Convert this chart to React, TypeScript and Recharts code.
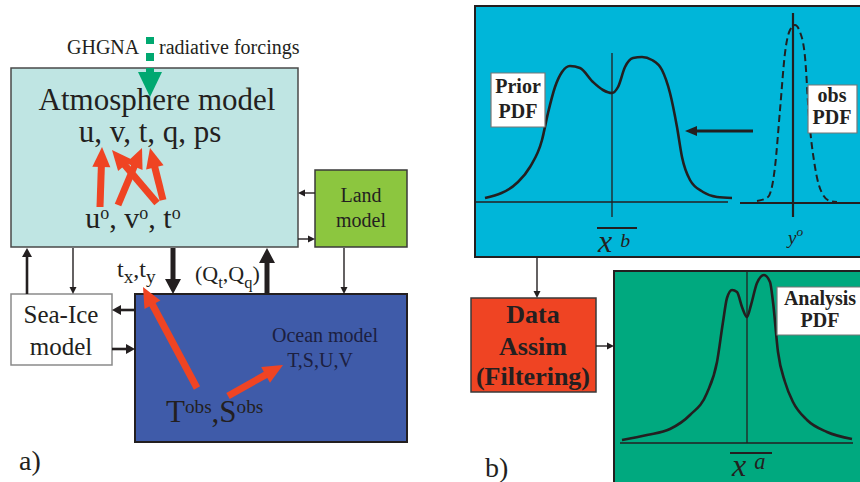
import React from 'react';
import {
  ComposedChart,
  XAxis,
  YAxis,
  ReferenceArea,
  ReferenceLine,
  Line,
  Scatter,
} from 'recharts';

const W = 860;
const H = 482;
const INK = '#231f20';
const SERIF = '"Liberation Serif", "Times New Roman", serif';

// model / panel boxes (diagram pixel units)
const boxes = [
  { id: 'atm', x1: 11, x2: 298, y1: 68, y2: 247 },
  { id: 'land', x1: 315, x2: 407, y1: 170, y2: 247 },
  { id: 'seaice', x1: 11, x2: 112, y1: 294, y2: 365 },
  { id: 'ocean', x1: 135, x2: 407, y1: 294, y2: 442 },
  { id: 'forcing', x1: 146, x2: 154, y1: 37, y2: 44 },
  { id: 'forcing', x1: 146, x2: 154, y1: 53, y2: 61 },
  { id: 'prior', x1: 475, x2: 875, y1: 6, y2: 257 },
  { id: 'assim', x1: 471, x2: 596, y1: 298, y2: 392 },
  { id: 'analysis', x1: 614, x2: 875, y1: 271, y2: 495 },
];

// white label boxes sitting over the pdf curves
const tagBoxes = [
  { x1: 491, x2: 545, y1: 73, y2: 127 },
  { x1: 808, x2: 857, y1: 85, y2: 133 },
  { x1: 777, x2: 875, y1: 287, y2: 335 },
];

// arrows: from -> to
const arrows = [
  { kind: 'green', from: [150, 68], to: [150, 97] },
  { kind: 'red', from: [100, 207], to: [102, 147] },
  { kind: 'red', from: [157, 203], to: [112, 150] },
  { kind: 'red', from: [118, 205], to: [142, 148] },
  { kind: 'red', from: [163, 200], to: [150, 148] },
  { kind: 'red', from: [197, 388], to: [143, 287] },
  { kind: 'red', from: [228, 396], to: [283, 365] },
  { kind: 'thin', from: [315, 193], to: [298, 193] },
  { kind: 'thin', from: [298, 239], to: [315, 239] },
  { kind: 'medium', from: [27, 294], to: [27, 248] },
  { kind: 'thin', from: [73, 248], to: [73, 294] },
  { kind: 'heavy', from: [173, 248], to: [173, 294] },
  { kind: 'heavy', from: [267, 294], to: [267, 248] },
  { kind: 'thin', from: [344, 248], to: [344, 294] },
  { kind: 'medium', from: [135, 310], to: [112, 310] },
  { kind: 'medium', from: [112, 349], to: [135, 349] },
  { kind: 'bold', from: [753, 131], to: [685, 131] },
  { kind: 'thin', from: [537, 257], to: [537, 298] },
  { kind: 'thin', from: [596, 346], to: [614, 346] },
];

// plain segments: pdf axes and overbars
const segments = [
  { kind: 'axis', from: [475, 202], to: [728, 202] },
  { kind: 'axis', from: [612, 53], to: [612, 217] },
  { kind: 'obsAxis', from: [740, 203], to: [860, 203] },
  { kind: 'obsAxis', from: [793, 13], to: [793, 217] },
  { kind: 'axis', from: [620, 443], to: [853, 443] },
  { kind: 'axis', from: [747, 272], to: [747, 443] },
  { kind: 'bar', from: [597, 228], to: [637, 228] },
  { kind: 'bar', from: [730, 453], to: [772, 453] },
];

const priorPdf = [
  { x: 485, y: 198 }, { x: 518, y: 182 }, { x: 530, y: 167 }, { x: 542, y: 140 },
  { x: 548, y: 113 }, { x: 555, y: 87 }, { x: 562, y: 72 }, { x: 570, y: 66 },
  { x: 580, y: 68 }, { x: 593, y: 82 }, { x: 603, y: 90 }, { x: 612, y: 93 },
  { x: 618, y: 87 }, { x: 625, y: 67 }, { x: 633, y: 58 }, { x: 642, y: 57 },
  { x: 652, y: 60 }, { x: 662, y: 70 }, { x: 670, y: 93 }, { x: 677, y: 127 },
  { x: 682, y: 157 }, { x: 690, y: 180 }, { x: 703, y: 192 }, { x: 717, y: 197 },
  { x: 732, y: 198 },
];

const obsPdf = [
  { x: 757, y: 201 }, { x: 768, y: 197 }, { x: 775, y: 167 }, { x: 780, y: 110 },
  { x: 785, y: 53 }, { x: 790, y: 30 }, { x: 795, y: 25 }, { x: 800, y: 32 },
  { x: 805, y: 57 }, { x: 809, y: 117 }, { x: 815, y: 167 }, { x: 822, y: 193 },
  { x: 830, y: 201 }, { x: 837, y: 202 },
];

const analysisPdf = [
  { x: 622, y: 440 }, { x: 647, y: 435 }, { x: 670, y: 429 }, { x: 690, y: 415 },
  { x: 707, y: 393 }, { x: 717, y: 362 }, { x: 723, y: 322 }, { x: 727, y: 298 },
  { x: 732, y: 290 }, { x: 737, y: 292 }, { x: 742, y: 307 }, { x: 747, y: 317 },
  { x: 751, y: 305 }, { x: 757, y: 283 }, { x: 764, y: 275 }, { x: 770, y: 282 },
  { x: 773, y: 302 }, { x: 778, y: 352 }, { x: 785, y: 382 }, { x: 793, y: 402 },
  { x: 807, y: 420 }, { x: 827, y: 432 }, { x: 852, y: 439 },
];

// labels: ^{..} superscript, _{..} subscript
const labels = [
  { x: 67, y: 54, text: 'GHGNA', style: 'forcing' },
  { x: 159, y: 54, text: 'radiative forcings', style: 'forcing' },
  { x: 157, y: 110, text: 'Atmosphere model', style: 'title' },
  { x: 150, y: 142, text: 'u, v, t, q, ps', style: 'title' },
  { x: 133, y: 228, text: 'u^{o}, v^{o}, t^{o}', style: 'inc' },
  { x: 361, y: 202, text: 'Land', style: 'land' },
  { x: 361, y: 227, text: 'model', style: 'land' },
  { x: 61, y: 323, text: 'Sea-Ice', style: 'seaice' },
  { x: 61, y: 355, text: 'model', style: 'seaice' },
  { x: 117, y: 277, text: 't_{x},t_{y}', style: 'stress' },
  { x: 195, y: 281, text: '(Q_{t},Q_{q})', style: 'heat' },
  { x: 325, y: 342, text: 'Ocean model', style: 'ocean' },
  { x: 320, y: 367, text: 'T,S,U,V', style: 'ocean' },
  { x: 166, y: 422, text: 'T^{obs},S^{obs}', style: 'tobs' },
  { x: 19, y: 470, text: 'a)', style: 'panel' },
  { x: 485, y: 477, text: 'b)', style: 'panel' },
  { x: 518, y: 93, text: 'Prior', style: 'tag' },
  { x: 518, y: 118, text: 'PDF', style: 'tag' },
  { x: 832, y: 102, text: 'obs', style: 'tag' },
  { x: 832, y: 124, text: 'PDF', style: 'tag' },
  { x: 820, y: 305, text: 'Analysis', style: 'tag' },
  { x: 820, y: 327, text: 'PDF', style: 'tag' },
  { x: 533, y: 323, text: 'Data', style: 'assim' },
  { x: 533, y: 355, text: 'Assim', style: 'assim' },
  { x: 533, y: 385, text: '(Filtering)', style: 'assim' },
  { x: 598, y: 252, text: 'x ^{b}', style: 'meanB' },
  { x: 732, y: 476, text: 'x ^{a}', style: 'meanA' },
  { x: 788, y: 244, text: 'y^{o}', style: 'yo' },
];

const boxStyle: Record<string, any> = {
  atm: { fill: '#bfe5e3', stroke: '#4a4a4a', strokeWidth: 1.5 },
  land: { fill: '#8cc63f', stroke: '#3a3a3a', strokeWidth: 1.5 },
  seaice: { fill: '#ffffff', stroke: '#8a8a8a', strokeWidth: 1.5 },
  ocean: { fill: '#3f5ba9', stroke: INK, strokeWidth: 2 },
  forcing: { fill: '#00a870', stroke: 'none', strokeWidth: 0 },
  prior: { fill: '#00b6d9', stroke: INK, strokeWidth: 2 },
  assim: { fill: '#ef4423', stroke: '#3a3a3a', strokeWidth: 1.5 },
  analysis: { fill: '#00a97f', stroke: INK, strokeWidth: 2 },
};
const tagStyle = { fill: '#ffffff', stroke: '#777777', strokeWidth: 1.2 };

const arrowKinds: Record<string, any> = {
  green: { color: '#00a870', width: 8, head: 25, half: 12 },
  red: { color: '#ef4423', width: 7, head: 20, half: 9 },
  thin: { color: INK, width: 1.4, head: 7, half: 3.5 },
  medium: { color: INK, width: 2.6, head: 9, half: 5 },
  heavy: { color: INK, width: 5, head: 15, half: 8 },
  bold: { color: INK, width: 3, head: 12, half: 5 },
};

const segmentKinds: Record<string, any> = {
  axis: { stroke: INK, strokeWidth: 1.3 },
  obsAxis: { stroke: INK, strokeWidth: 2.2 },
  bar: { stroke: INK, strokeWidth: 2 },
};

const textStyles: Record<string, any> = {
  forcing: { size: 20 },
  title: { size: 31, anchor: 'middle' },
  inc: { size: 30, anchor: 'middle', sup: 0.6, raise: 0.3 },
  land: { size: 20, anchor: 'middle' },
  seaice: { size: 25, anchor: 'middle' },
  stress: { size: 24, sub: 0.8, drop: 0.25 },
  heat: { size: 22, sub: 0.75, drop: 0.3 },
  ocean: { size: 20, anchor: 'middle', fill: '#1c2040' },
  tobs: { size: 31, sup: 0.62, raise: 0.3 },
  panel: { size: 28 },
  tag: { size: 20, anchor: 'middle', weight: 700 },
  assim: { size: 26, anchor: 'middle', weight: 700 },
  meanB: { size: 32, italic: true, sup: 0.62, raise: 0.16 },
  meanA: { size: 32, italic: true, sup: 0.7, raise: 0.22 },
  yo: { size: 19, italic: true, sup: 0.7, raise: 0.4 },
};

const makeArrow = (kind: string) => (p: any) => {
  const k = arrowKinds[kind];
  const { x1, y1, x2, y2 } = p;
  const len = Math.hypot(x2 - x1, y2 - y1) || 1;
  const ux = (x2 - x1) / len;
  const uy = (y2 - y1) / len;
  const bx = x2 - ux * k.head;
  const by = y2 - uy * k.head;
  const nx = -uy;
  const ny = ux;
  return (
    <g>
      <line x1={x1} y1={y1} x2={bx + ux} y2={by + uy} stroke={k.color} strokeWidth={k.width} />
      <polygon
        points={`${x2},${y2} ${bx + nx * k.half},${by + ny * k.half} ${bx - nx * k.half},${by - ny * k.half}`}
        fill={k.color}
      />
    </g>
  );
};

const renderLabel = (p: any) => {
  const item = p.payload;
  const s = textStyles[item.style];
  const parts = item.text.split(/(\^\{[^}]*\}|_\{[^}]*\})/).filter((t: string) => t !== '');
  let level = 0;
  const spans = parts.map((t: string, i: number) => {
    let target = 0;
    let size = s.size;
    let str = t;
    if (t.startsWith('^{')) {
      target = -s.raise * s.size;
      size = s.size * s.sup;
      str = t.slice(2, -1);
    } else if (t.startsWith('_{')) {
      target = s.drop * s.size;
      size = s.size * s.sub;
      str = t.slice(2, -1);
    }
    const dy = target - level;
    level = target;
    return (
      <tspan key={i} dy={dy} fontSize={size}>
        {str}
      </tspan>
    );
  });
  return (
    <text
      x={p.cx}
      y={p.cy}
      textAnchor={s.anchor || 'start'}
      fontFamily={SERIF}
      fontSize={s.size}
      fontWeight={s.weight || 400}
      fontStyle={s.italic ? 'italic' : 'normal'}
      fill={s.fill || INK}
      style={{ whiteSpace: 'pre' }}
    >
      {spans}
    </text>
  );
};

export default function App() {
  return (
    <div style={{ position: 'absolute', left: 0, top: 0, width: W, height: H, background: '#fff' }}>
      <ComposedChart width={W} height={H} margin={{ top: 0, right: 0, bottom: 0, left: 0 }}>
        <XAxis type="number" dataKey="x" domain={[0, W]} allowDataOverflow hide />
        <YAxis type="number" dataKey="y" domain={[0, H]} reversed allowDataOverflow hide />
        {boxes.map((b, i) => (
          <ReferenceArea
            key={`b${i}`}
            x1={b.x1}
            x2={b.x2}
            y1={b.y1}
            y2={b.y2}
            ifOverflow="visible"
            fillOpacity={1}
            {...boxStyle[b.id]}
          />
        ))}
        {segments.map((s, i) => (
          <ReferenceLine
            key={`s${i}`}
            segment={[
              { x: s.from[0], y: s.from[1] },
              { x: s.to[0], y: s.to[1] },
            ]}
            ifOverflow="visible"
            {...segmentKinds[s.kind]}
          />
        ))}
        <Line data={priorPdf} dataKey="y" type="monotone" stroke={INK} strokeWidth={2.6} dot={false} activeDot={false} isAnimationActive={false} />
        <Line data={obsPdf} dataKey="y" type="monotone" stroke={INK} strokeWidth={2} strokeDasharray="7 4" dot={false} activeDot={false} isAnimationActive={false} />
        <Line data={analysisPdf} dataKey="y" type="monotone" stroke={INK} strokeWidth={2.6} dot={false} activeDot={false} isAnimationActive={false} />
        {tagBoxes.map((b, i) => (
          <ReferenceArea
            key={`t${i}`}
            x1={b.x1}
            x2={b.x2}
            y1={b.y1}
            y2={b.y2}
            ifOverflow="visible"
            fillOpacity={1}
            {...({ zIndex: 550 } as any)}
            {...tagStyle}
          />
        ))}
        {arrows.map((a, i) => (
          <ReferenceLine
            key={`a${i}`}
            segment={[
              { x: a.from[0], y: a.from[1] },
              { x: a.to[0], y: a.to[1] },
            ]}
            ifOverflow="visible"
            shape={makeArrow(a.kind)}
          />
        ))}
        <Scatter data={labels} shape={renderLabel} isAnimationActive={false} {...({ zIndex: 700 } as any)} />
      </ComposedChart>
    </div>
  );
}
